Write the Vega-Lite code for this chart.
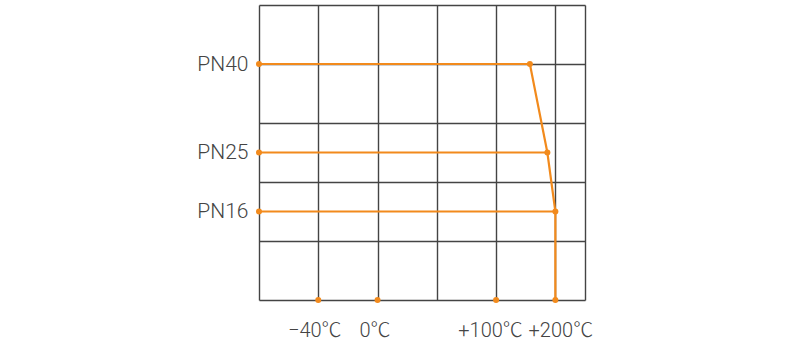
{
  "$schema": "https://vega.github.io/schema/vega-lite/v6.json",
  "autosize": {"type": "none"},
  "padding": {"left": 259, "top": 5, "right": 205, "bottom": 41},
  "width": 326,
  "height": 295,
  "background": "white",
  "config": {"view": {"stroke": null}},
  "datasets": {
    "lines": [
      {"series": "PN40", "order": 0, "t": 0, "p": 4},
      {"series": "PN40", "order": 1, "t": 4.57, "p": 4},
      {"series": "PN25", "order": 0, "t": 0, "p": 2.5},
      {"series": "PN25", "order": 1, "t": 4.865, "p": 2.5},
      {"series": "PN16", "order": 0, "t": 0, "p": 1.5},
      {"series": "PN16", "order": 1, "t": 5, "p": 1.5},
      {"series": "limit", "order": 0, "t": 4.57, "p": 4},
      {"series": "limit", "order": 1, "t": 4.865, "p": 2.5},
      {"series": "limit", "order": 2, "t": 5, "p": 1.5},
      {"series": "limit", "order": 3, "t": 5, "p": 0}
    ],
    "points": [
      {"t": 0, "p": 4},
      {"t": 0, "p": 2.5},
      {"t": 0, "p": 1.5},
      {"t": 4.57, "p": 4},
      {"t": 4.865, "p": 2.5},
      {"t": 5, "p": 1.5},
      {"t": 1, "p": 0},
      {"t": 2, "p": 0},
      {"t": 4, "p": 0},
      {"t": 5, "p": 0}
    ]
  },
  "encoding": {
    "x": {
      "field": "t", "type": "quantitative",
      "scale": {"domain": [0, 5.5], "nice": false, "zero": false},
      "axis": {
        "title": null,
        "values": [0, 1, 2, 3, 4, 5, 5.5],
        "labelExpr": "datum.value == 1 ? '−40℃' : datum.value == 2 ? '0℃' : datum.value == 4 ? '+100℃' : datum.value == 5 ? '+200℃' : ''",
        "grid": true, "gridColor": "#444444", "gridWidth": 1.4, "gridOpacity": 1,
        "domain": false, "ticks": false,
        "labelFont": "Roboto, 'Noto Sans CJK JP'", "labelFontWeight": 300, "labelFontSize": 20,
        "labelColor": "#444444", "labelPadding": 20, "labelFlush": false, "labelOverlap": false,
        "labelOffset": {"condition": [
          {"test": "datum.value == 1", "value": -4},
          {"test": "datum.value == 2", "value": -3},
          {"test": "datum.value == 4", "value": -6},
          {"test": "datum.value == 5", "value": 5}
        ], "value": 0}
      }
    },
    "y": {
      "field": "p", "type": "quantitative",
      "scale": {"domain": [0, 5], "nice": false, "zero": false},
      "axis": {
        "title": null,
        "values": [0, 1, 1.5, 2, 2.5, 3, 4, 5],
        "labelExpr": "datum.value == 4 ? 'PN40' : datum.value == 2.5 ? 'PN25' : datum.value == 1.5 ? 'PN16' : ''",
        "grid": true, "gridColor": "#444444", "gridWidth": 1.4,
        "gridOpacity": {"condition": {"test": "datum.value % 1 != 0", "value": 0}, "value": 1},
        "domain": false, "ticks": false,
        "labelFont": "Roboto", "labelFontWeight": 300, "labelFontSize": 21,
        "labelColor": "#444444", "labelPadding": 11, "labelOverlap": false, "labelFlush": false
      }
    }
  },
  "layer": [
    {
      "data": {"name": "lines"},
      "mark": {"type": "line", "color": "#F28A1C", "strokeWidth": 2.2},
      "encoding": {
        "detail": {"field": "series"},
        "order": {"field": "order", "type": "quantitative"}
      }
    },
    {
      "data": {"name": "points"},
      "mark": {"type": "circle", "color": "#F28A1C", "size": 36, "opacity": 1}
    }
  ]
}
